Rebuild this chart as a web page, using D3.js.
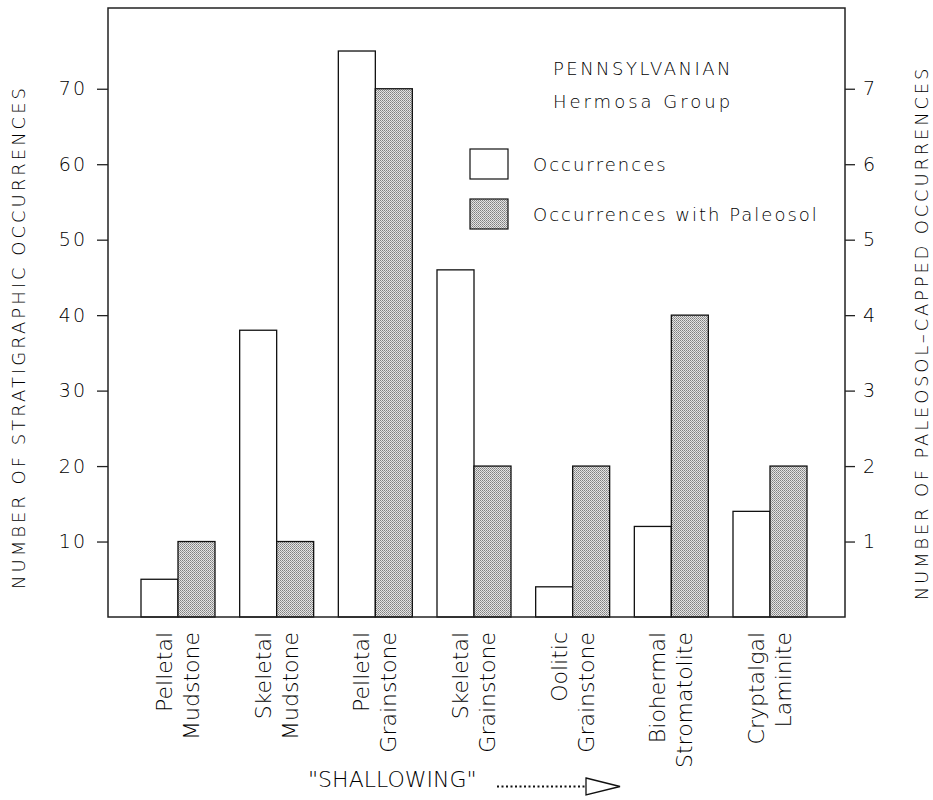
<!DOCTYPE html>
<html>
<head>
<meta charset="utf-8">
<script src="https://cdn.jsdelivr.net/npm/d3@7"></script>
<style>
  body { margin: 0; background: #fff; }
  svg text { font-family: "DejaVu Sans", sans-serif; font-weight: 200; fill: #000; }
</style>
</head>
<body>
<svg id="chart" width="933" height="800"></svg>
<script>
// categories along the x-axis (split on the space into two label lines)
var categories = ["Pelletal Mudstone", "Skeletal Mudstone", "Pelletal Grainstone",
  "Skeletal Grainstone", "Oolitic Grainstone", "Biohermal Stromatolite", "Cryptalgal Laminite"];

// left axis: number of stratigraphic occurrences
var occurrences = [5, 38, 75, 46, 4, 12, 14];
// right axis: number of paleosol-capped occurrences
var paleosolOccurrences = [1, 1, 7, 2, 2, 4, 2];

var leftTicks = [10, 20, 30, 40, 50, 60, 70];
var rightTicks = [1, 2, 3, 4, 5, 6, 7];

var svg = d3.select("#chart");

// plot frame
const plotLeft = 108, plotRight = 845, plotTop = 8, plotBottom = 617;
const barWidth = 37;

// stipple pattern for the paleosol bars
var defs = svg.append("defs");
var pat = defs.append("pattern")
  .attr("id", "stipple")
  .attr("patternUnits", "userSpaceOnUse")
  .attr("width", 2).attr("height", 2);
pat.append("rect").attr("width", 2).attr("height", 2).attr("fill", "#e4e4e4");
pat.append("rect").attr("x", 0).attr("y", 0).attr("width", 1).attr("height", 1).attr("fill", "#808080");
pat.append("rect").attr("x", 1).attr("y", 1).attr("width", 1).attr("height", 1).attr("fill", "#9a9a9a");

var xScale = d3.scalePoint()
  .domain(categories)
  .range([178, 770]);

var yLeft = d3.scaleLinear()
  .domain([0, 80.7])
  .range([plotBottom, plotTop]);

var yRight = d3.scaleLinear()
  .domain([0, 8.07])
  .range([plotBottom, plotTop]);

// occurrences bars (white)
svg.selectAll("rect.occ")
  .data(categories)
  .enter().append("rect")
  .attr("class", "occ")
  .attr("x", d => xScale(d) - barWidth)
  .attr("y", (d, i) => yLeft(occurrences[i]))
  .attr("width", barWidth)
  .attr("height", (d, i) => plotBottom - yLeft(occurrences[i]))
  .attr("fill", "#fff")
  .attr("stroke", "#111")
  .attr("stroke-width", 1.3);

// paleosol bars (stippled)
svg.selectAll("rect.pal")
  .data(categories)
  .enter().append("rect")
  .attr("class", "pal")
  .attr("x", d => xScale(d))
  .attr("y", (d, i) => yRight(paleosolOccurrences[i]))
  .attr("width", barWidth)
  .attr("height", (d, i) => plotBottom - yRight(paleosolOccurrences[i]))
  .attr("fill", "url(#stipple)")
  .attr("stroke", "#111")
  .attr("stroke-width", 1.3);

// frame
svg.append("rect")
  .attr("x", plotLeft).attr("y", plotTop)
  .attr("width", plotRight - plotLeft).attr("height", plotBottom - plotTop)
  .attr("fill", "none")
  .attr("stroke", "#222")
  .attr("stroke-width", 1.5);

// left axis
var leftAxis = d3.axisLeft(yLeft).tickValues(leftTicks).tickSize(11).tickPadding(10);
var gl = svg.append("g")
  .attr("transform", "translate(" + plotLeft + ",0)")
  .call(leftAxis);
gl.select(".domain").remove();

// right axis
var rightAxis = d3.axisRight(yRight).tickValues(rightTicks).tickSize(10).tickPadding(8);
var gr = svg.append("g")
  .attr("transform", "translate(" + plotRight + ",0)")
  .call(rightAxis);
gr.select(".domain").remove();

svg.selectAll(".tick line").attr("stroke", "#222").attr("stroke-width", 1.3);
svg.selectAll(".tick text")
  .style("font-family", "DejaVu Sans, sans-serif")
  .style("font-weight", "200")
  .style("font-size", "19px")
  .style("letter-spacing", "2px")
  .attr("fill", "#000");

// axis titles
svg.append("text")
  .attr("transform", "translate(25,337)rotate(-90)")
  .attr("text-anchor", "middle")
  .style("font-size", "18px")
  .style("letter-spacing", "3px")
  .text("NUMBER OF STRATIGRAPHIC OCCURRENCES");

svg.append("text")
  .attr("transform", "translate(928,333)rotate(-90)")
  .attr("text-anchor", "middle")
  .style("font-size", "18px")
  .style("letter-spacing", "2.8px")
  .text("NUMBER OF PALEOSOL\u2013CAPPED OCCURRENCES");

// category labels, rotated, two lines each
categories.forEach(function (c) {
  var lines = c.split(" ");
  lines.forEach(function (line, j) {
    svg.append("text")
      .attr("transform", "translate(" + (xScale(c) - 6 + j * 27) + ",632)rotate(-90)")
      .attr("text-anchor", "end")
      .style("font-size", "22px")
      .text(line);
  });
});

// title block
svg.append("text")
  .attr("x", 643).attr("y", 75)
  .attr("text-anchor", "middle")
  .style("font-size", "18px")
  .style("letter-spacing", "2.5px")
  .text("PENNSYLVANIAN");
svg.append("text")
  .attr("x", 643).attr("y", 108)
  .attr("text-anchor", "middle")
  .style("font-size", "18px")
  .style("letter-spacing", "3px")
  .text("Hermosa Group");

// legend
var legendItems = [
  { label: "Occurrences", fill: "#fff", y: 149 },
  { label: "Occurrences with Paleosol", fill: "url(#stipple)", y: 199 }
];
legendItems.forEach(function (item) {
  svg.append("rect")
    .attr("x", 470).attr("y", item.y)
    .attr("width", 38).attr("height", 30)
    .attr("fill", item.fill)
    .attr("stroke", "#111")
    .attr("stroke-width", 1.2);
  svg.append("text")
    .attr("x", 533).attr("y", item.y + 22)
    .style("font-size", "18px")
    .style("letter-spacing", "2px")
    .text(item.label);
});

// "SHALLOWING" arrow
svg.append("text")
  .attr("x", 308).attr("y", 787)
  .style("font-size", "22px")
  .text("\"SHALLOWING\"");
svg.append("line")
  .attr("x1", 497).attr("x2", 586)
  .attr("y1", 786.5).attr("y2", 786.5)
  .attr("stroke", "#111")
  .attr("stroke-width", 2)
  .attr("stroke-dasharray", "2,2.5");
svg.append("path")
  .attr("d", "M586,778L620,786.5L586,795Z")
  .attr("fill", "#fff")
  .attr("stroke", "#111")
  .attr("stroke-width", 1.3);
</script>
</body>
</html>
